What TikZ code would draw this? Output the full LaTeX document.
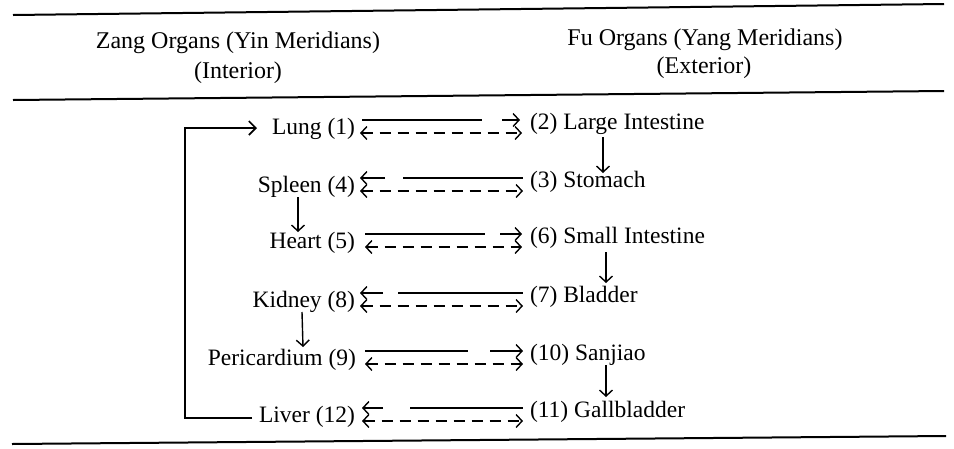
\documentclass[tikz,border=0pt]{standalone}
\usepackage{fontspec}
\setmainfont{Liberation Serif}
\usetikzlibrary{arrows.meta}
\begin{document}
\begin{tikzpicture}[x=1pt,y=-1pt,
  every node/.style={inner sep=0pt,outer sep=0pt,font=\fontsize{23.5}{27}\selectfont},
  hdr/.style={font=\fontsize{24}{28}\selectfont,anchor=base},
  zang/.style={anchor=base east},
  fu/.style={anchor=base west},
  rulel/.style={line width=2pt},
  ln/.style={line width=1.4pt},
  tip/.tip={Straight Barb[length=6pt,width=13pt,line width=1.4pt]},
  loopl/.style={line width=1.6pt,-{Straight Barb[length=7pt,width=14pt]}},
  arr/.style={ln,-tip},
  dbl/.style={ln,dash pattern=on 11pt off 7pt,tip-tip},
]
\useasboundingbox (0,0) rectangle (954,448);

% rules
\coordinate (t1) at (13,15);  \coordinate (t2) at (944,4);
\coordinate (m1) at (13,100); \coordinate (m2) at (944,91);
\coordinate (b1) at (12,444); \coordinate (b2) at (946,436);
\draw[rulel] (t1) -- (t2);
\draw[rulel] (m1) -- (m2);
\draw[rulel] (b1) -- (b2);

% headers
\node[hdr] (h1) at (238,48) {Zang Organs (Yin Meridians)};
\node[hdr] (h2) at (238,78) {(Interior)};
\node[hdr] (h3) at (705,45) {Fu Organs (Yang Meridians)};
\node[hdr] (h4) at (704,73) {(Exterior)};

% organs
\node[zang] (lung)    at (355,134) {Lung (1)};
\node[zang] (spleen)  at (355,192) {Spleen (4)};
\node[zang] (heart)   at (355,248) {Heart (5)};
\node[zang] (kidney)  at (355,307) {Kidney (8)};
\node[zang] (peri)    at (356,365) {Pericardium (9)};
\node[zang] (liver)   at (355,422) {Liver (12)};

\node[fu] (li)      at (530,129) {(2) Large Intestine};
\node[fu] (stomach) at (530,187) {(3) Stomach};
\node[fu] (si)      at (530,243) {(6) Small Intestine};
\node[fu] (bladder) at (530,302) {(7) Bladder};
\node[fu] (sanjiao) at (530,360) {(10) Sanjiao};
\node[fu] (gb)      at (530,417) {(11) Gallbladder};

% Lung -- Large Intestine
\draw[ln]  ([xshift=7pt,yshift=14pt]lung.base east) -- ([xshift=-48pt,yshift=9pt]li.base west);
\draw[arr] ([xshift=-28pt,yshift=9pt]li.base west) -- ([xshift=-10pt,yshift=9pt]li.base west);
\draw[dbl] ([xshift=5pt,yshift=1pt]lung.base east) -- ([xshift=-8pt,yshift=-4pt]li.base west);

% Spleen -- Stomach
\draw[arr] ([xshift=30pt,yshift=14pt]spleen.base east) -- ([xshift=5pt,yshift=14pt]spleen.base east);
\draw[ln]  ([xshift=48pt,yshift=14pt]spleen.base east) -- ([xshift=-7pt,yshift=9pt]stomach.base west);
\draw[dbl] ([xshift=5pt,yshift=1pt]spleen.base east) -- ([xshift=-7pt,yshift=-4pt]stomach.base west);

% Heart -- Small Intestine
\draw[ln]  ([xshift=10pt,yshift=14pt]heart.base east) -- ([xshift=-45pt,yshift=9pt]si.base west);
\draw[arr] ([xshift=-30pt,yshift=9pt]si.base west) -- ([xshift=-8pt,yshift=9pt]si.base west);
\draw[dbl] ([xshift=10pt,yshift=1pt]heart.base east) -- ([xshift=-8pt,yshift=-4pt]si.base west);

% Kidney -- Bladder
\draw[arr] ([xshift=28pt,yshift=14pt]kidney.base east) -- ([xshift=5pt,yshift=14pt]kidney.base east);
\draw[ln]  ([xshift=43pt,yshift=14pt]kidney.base east) -- ([xshift=-7pt,yshift=9pt]bladder.base west);
\draw[dbl] ([xshift=5pt,yshift=1pt]kidney.base east) -- ([xshift=-7pt,yshift=-4pt]bladder.base west);

% Pericardium -- Sanjiao
\draw[ln]  ([xshift=9pt,yshift=14pt]peri.base east) -- ([xshift=-62pt,yshift=9pt]sanjiao.base west);
\draw[arr] ([xshift=-40pt,yshift=9pt]sanjiao.base west) -- ([xshift=-7pt,yshift=9pt]sanjiao.base west);
\draw[dbl] ([xshift=9pt,yshift=1pt]peri.base east) -- ([xshift=-7pt,yshift=-4pt]sanjiao.base west);

% Liver -- Gallbladder
\draw[arr] ([xshift=28pt,yshift=14pt]liver.base east) -- ([xshift=7pt,yshift=14pt]liver.base east);
\draw[ln]  ([xshift=55pt,yshift=14pt]liver.base east) -- ([xshift=-7pt,yshift=9pt]gb.base west);
\draw[dbl] ([xshift=7pt,yshift=1pt]liver.base east) -- ([xshift=-7pt,yshift=-4pt]gb.base west);

% vertical arrows
\draw[arr] ([xshift=73pt,yshift=-8pt]li.base west) -- ([xshift=73pt,yshift=14pt]stomach.base west);
\draw[arr] ([xshift=76pt,yshift=-9pt]si.base west) -- ([xshift=76pt,yshift=19pt]bladder.base west);
\draw[arr] ([xshift=76pt,yshift=-5pt]sanjiao.base west) -- ([xshift=76pt,yshift=20pt]gb.base west);
\draw[arr] ([xshift=-57pt,yshift=-5pt]spleen.base east) -- ([xshift=-57pt,yshift=16pt]heart.base east);
\draw[arr] ([xshift=-53pt,yshift=-5pt]kidney.base east) -- ([xshift=-53pt,yshift=18pt]peri.base east);

% loop Liver -> Lung
\draw[loopl] ([xshift=-103pt,yshift=4pt]liver.base east) -- ++(-67,0) |- ([xshift=-98pt,yshift=6pt]lung.base east);
\end{tikzpicture}
\end{document}
